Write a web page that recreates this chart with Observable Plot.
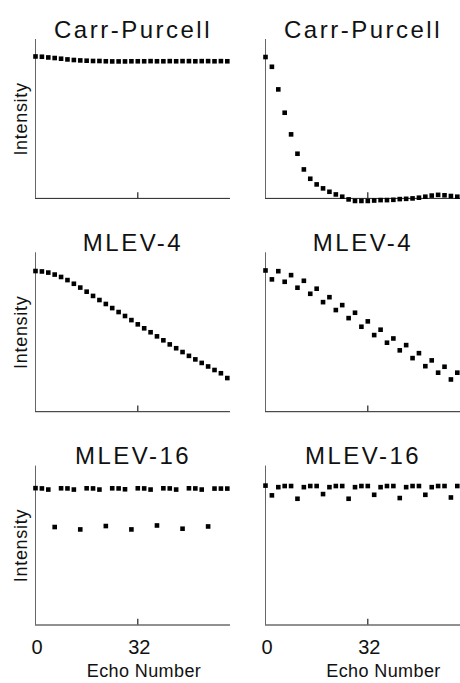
<!DOCTYPE html>
<html>
<head>
<meta charset="utf-8">
<script src="https://cdn.jsdelivr.net/npm/d3@7"></script>
<script src="https://cdn.jsdelivr.net/npm/@observablehq/plot@0.6"></script>
<style>
  body { margin: 0; background: #fff; }
  #chart { width: 460px; height: 683px; overflow: hidden; }
</style>
</head>
<body>
<div id="chart"></div>
<script>
// ---- data ----
const echoes = [0, 2, 4, 6, 8, 10, 12, 14, 16, 18, 20, 22, 24, 26, 28, 30,
                32, 34, 36, 38, 40, 42, 44, 46, 48, 50, 52, 54, 56, 58, 60];
const panelTitles = ["Carr-Purcell", "MLEV-4", "MLEV-16"];
const columns = ["left", "right"];
const xTicks = [0, 32];
const xTickLabels = ["0", "32"];
const xLabel = "Echo Number";
const yLabel = "Intensity";

const cpLeft = [1.004, 1.002, 0.997, 0.993, 0.988, 0.983, 0.979, 0.976, 0.974, 0.972,
                0.972, 0.970, 0.969, 0.969, 0.969, 0.970, 0.970, 0.970, 0.971, 0.970,
                0.970, 0.971, 0.970, 0.971, 0.971, 0.970, 0.971, 0.971, 0.970, 0.971, 0.970];
const cpRight = [1.000, 0.931, 0.771, 0.606, 0.453, 0.316, 0.205, 0.139, 0.099, 0.071,
                 0.047, 0.028, 0.012, -0.007, -0.018, -0.018, -0.018, -0.015, -0.012, -0.012,
                 -0.010, -0.005, -0.003, 0.000, 0.005, 0.012, 0.020, 0.025, 0.022, 0.017, 0.012];
const m4Left = [0.995, 0.992, 0.984, 0.970, 0.953, 0.931, 0.905, 0.878, 0.849, 0.819,
                0.790, 0.762, 0.733, 0.705, 0.677, 0.648, 0.618, 0.590, 0.562, 0.533,
                0.505, 0.476, 0.449, 0.422, 0.395, 0.370, 0.345, 0.320, 0.295, 0.272, 0.238];
const m4Right = [0.999, 0.936, 0.994, 0.919, 0.966, 0.877, 0.926, 0.834, 0.870, 0.775,
                 0.810, 0.719, 0.754, 0.662, 0.700, 0.601, 0.639, 0.542, 0.580, 0.488,
                 0.518, 0.434, 0.471, 0.379, 0.414, 0.322, 0.363, 0.276, 0.318, 0.228, 0.276];
const m16Left = [0.968, 0.966, 0.958, 0.693, 0.967, 0.966, 0.958, 0.676, 0.967, 0.966,
                 0.958, 0.700, 0.967, 0.966, 0.960, 0.676, 0.967, 0.966, 0.958, 0.704,
                 0.967, 0.966, 0.958, 0.681, 0.967, 0.966, 0.958, 0.697, 0.965, 0.965, 0.965];
const m16Right = [0.986, 0.917, 0.975, 0.983, 0.983, 0.893, 0.975, 0.983, 0.983, 0.926,
                  0.975, 0.983, 0.983, 0.893, 0.975, 0.983, 0.983, 0.921, 0.975, 0.983,
                  0.983, 0.898, 0.975, 0.983, 0.983, 0.921, 0.975, 0.983, 0.983, 0.902, 0.983];

// ---- tables built from the arrays ----
const series = [
  {row: panelTitles[0], col: columns[0], values: cpLeft},
  {row: panelTitles[0], col: columns[1], values: cpRight},
  {row: panelTitles[1], col: columns[0], values: m4Left},
  {row: panelTitles[1], col: columns[1], values: m4Right},
  {row: panelTitles[2], col: columns[0], values: m16Left},
  {row: panelTitles[2], col: columns[1], values: m16Right}
];
const points = series.flatMap(s => s.values.map((v, i) => ({row: s.row, col: s.col, echo: echoes[i], value: v})));
const titles = series.map(s => ({row: s.row, col: s.col, title: s.row}));
const yLabels = panelTitles.map(r => ({row: r, col: columns[0], label: yLabel}));
const tickLabels = columns.flatMap(c => xTicks.map((t, i) => ({row: panelTitles[2], col: c, echo: t, label: xTickLabels[i]})));
const xLabelLeft = [{row: panelTitles[2], col: columns[0], label: xLabel}];
const xLabelRight = [{row: panelTitles[2], col: columns[1], label: xLabel}];

const font = "'Liberation Sans', Arial, Helvetica, sans-serif";

const chart = Plot.plot({
  width: 460,
  height: 683,
  marginTop: 39,
  marginBottom: 58.5,
  marginLeft: 35,
  marginRight: 0,
  style: {fontFamily: font, background: "white", color: "black", overflow: "visible"},
  fx: {domain: columns, paddingInner: 0.1522, paddingOuter: 0, round: false, axis: null, label: null},
  fy: {domain: panelTitles, paddingInner: 0.255, paddingOuter: 0, round: false, axis: null, label: null},
  x: {domain: [0, 61], axis: null},
  y: {domain: [0, 1.124], axis: null},
  marks: [
    Plot.ruleX([0], {stroke: "#666", strokeWidth: 1}),
    Plot.ruleY([0], {stroke: "#222", strokeWidth: 1}),
    Plot.ruleX([xTicks[1]], {y1: 0, y2: 0.04, stroke: "#222", strokeWidth: 1.2}),
    Plot.dot(points, {fx: "col", fy: "row", x: "echo", y: "value", symbol: "square", r: 2.6, fill: "black", stroke: "none"}),
    Plot.text(titles, {fx: "col", fy: "row", text: "title", frameAnchor: "top", dy: -2, lineAnchor: "bottom", fontSize: 24, fill: "#111"}),
    Plot.text(yLabels, {fx: "col", fy: "row", text: "label", frameAnchor: "left", rotate: -90, dx: -9, lineAnchor: "bottom", textAnchor: "middle", fontSize: 18, fill: "#111"}),
    Plot.text(tickLabels, {fx: "col", fy: "row", x: "echo", text: "label", frameAnchor: "bottom", dy: 28.5, dx: 1.5, lineAnchor: "bottom", fontSize: 20, fill: "#111"}),
    Plot.text(xLabelLeft, {fx: "col", fy: "row", text: "label", frameAnchor: "bottom", dx: 11, dy: 51.5, lineAnchor: "bottom", fontSize: 18, fill: "#111"}),
    Plot.text(xLabelRight, {fx: "col", fy: "row", text: "label", frameAnchor: "bottom", dx: 20.5, dy: 51.5, lineAnchor: "bottom", fontSize: 18, fill: "#111"})
  ]
});

d3.select(chart).selectAll("text").each(function () {
  const t = this.textContent;
  if (panelTitles.includes(t)) this.setAttribute("letter-spacing", "2.5");
  else if (t === yLabel) this.setAttribute("letter-spacing", "0.7");
  else if (t === xLabel) this.setAttribute("letter-spacing", "0.4");
});

document.getElementById("chart").appendChild(chart);
</script>
</body>
</html>
